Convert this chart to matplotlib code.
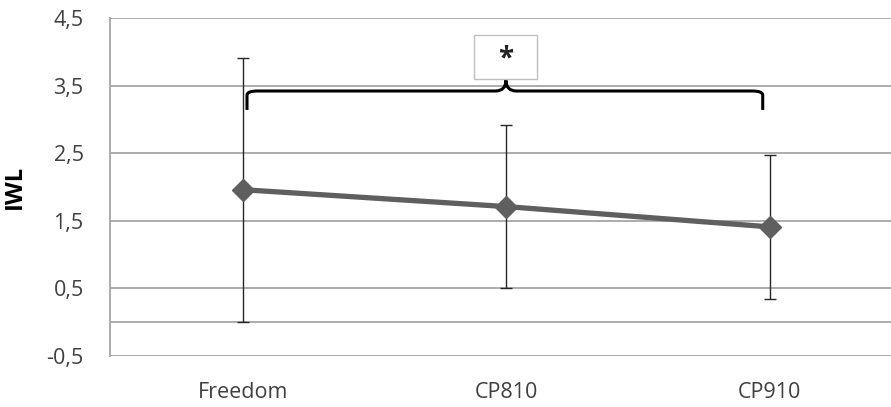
import matplotlib.pyplot as plt
from matplotlib.patches import Rectangle, PathPatch
from matplotlib.path import Path
from matplotlib.ticker import FuncFormatter

# dados
groups = ["Freedom", "CP810", "CP910"]
iwl_mean = [1.96, 1.71, 1.41]
iwl_err = [1.95, 1.21, 1.06]
y_ticks = [-0.5, 0.5, 1.5, 2.5, 3.5, 4.5]

plt.rcParams['font.family'] = ['Open Sans', 'DejaVu Sans']

fig = plt.figure(figsize=(8.91, 4.07), dpi=100)
ax = fig.add_axes([0.1235, 0.1253, 0.8765, 0.8305])

x = list(range(len(groups)))

# linhas de grade (inclui a linha do zero, como no Excel)
for v in y_ticks + [0]:
    ax.axhline(v, color='#a6a6a6', lw=1.3, zorder=0)

ax.errorbar(x, iwl_mean, yerr=iwl_err, fmt='none', ecolor='#262626',
            elinewidth=1, capsize=4.3, capthick=1, zorder=2)
ax.plot(x, iwl_mean, color='#5f5f5f', lw=3.8, marker='D', markersize=11,
        markeredgecolor='#5f5f5f', zorder=3)

ax.set_xlim(-0.505, 2.46)
ax.set_ylim(-0.5, 4.5)
ax.set_yticks(y_ticks)
ax.yaxis.set_major_formatter(FuncFormatter(lambda v, p: f"{v:.1f}".replace('.', ',')))
ax.set_xticks(x)
ax.set_xticklabels(groups)
ax.tick_params(axis='both', length=0, labelsize=15.5, colors='#404040')
ax.tick_params(axis='x', pad=19)
ax.tick_params(axis='y', pad=19)
ax.set_ylabel('IWL', fontsize=17, fontweight='bold', labelpad=14)

for s in ['top', 'right', 'bottom']:
    ax.spines[s].set_visible(False)
ax.spines['left'].set_color('#a6a6a6')
ax.spines['left'].set_linewidth(1.3)

# chave de significância entre Freedom e CP910
x0, x1, xm = 0.015, 1.973, 0.998
yb, yh, yt = 3.14, 3.42, 3.58
r = 0.04
verts = [(x0, yb), (x0, yh - 0.06), (x0, yh), (x0 + r, yh),
         (xm - r, yh), (xm, yh), (xm, yt),
         (xm, yh), (xm + r, yh),
         (x1 - r, yh), (x1, yh), (x1, yh - 0.06), (x1, yb)]
codes = [Path.MOVETO, Path.LINETO, Path.CURVE3, Path.CURVE3,
         Path.LINETO, Path.CURVE3, Path.CURVE3,
         Path.CURVE3, Path.CURVE3,
         Path.LINETO, Path.CURVE3, Path.CURVE3, Path.LINETO]
ax.add_patch(PathPatch(Path(verts, codes), fill=False, lw=2.2, color='black',
                       capstyle='butt', zorder=4))

ax.add_patch(Rectangle((0.877, 3.60), 0.239, 0.65, facecolor='white',
                       edgecolor='#c0c0c0', lw=1, zorder=4))
ax.text(0.997, 3.89, '*', ha='center', va='center', fontsize=20,
        fontweight='bold', color='#222222', zorder=5)

fig.savefig('out.png', dpi=100)
